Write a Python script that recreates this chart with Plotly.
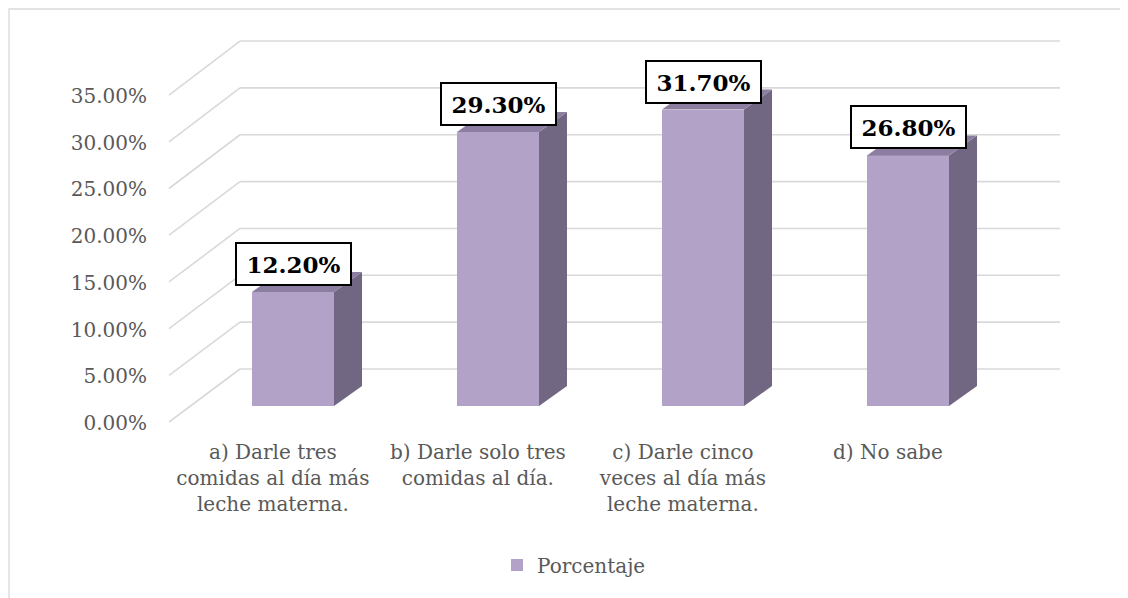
import plotly.graph_objects as go

# ---- data ----
categories = [
    "a) Darle tres<br>comidas al día más<br>leche materna.",
    "b) Darle solo tres<br>comidas al día.",
    "c) Darle cinco<br>veces al día más<br>leche materna.",
    "d) No sabe",
]
values = [12.2, 29.3, 31.7, 26.8]
value_labels = ["12.20%", "29.30%", "31.70%", "26.80%"]
tick_values = [0, 5, 10, 15, 20, 25, 30, 35]
tick_labels = ["0.00%", "5.00%", "10.00%", "15.00%", "20.00%", "25.00%", "30.00%", "35.00%"]
series_name = "Porcentaje"

# ---- styling / pseudo-3D geometry ----
FRONT = "#B2A2C7"
SIDE = "#716782"
TOP = "#8B7EA0"
GRID = "#D9D9D9"
TEXT = "#595959"
FONT = "DejaVu Serif"

BAR_W = 0.4
DX = 0.1366      # bar depth in x units
DY = 2.14        # bar depth in value units
WALL_X0, WALL_X1 = -0.2585, 3.7415
FRONT_X = -0.605


def front_plane(v):
    return -1.711 + 0.9989 * v


def back_wall(v):
    return 3.957 + 1.0021 * v


xs = list(range(len(values)))

fig = go.Figure()

# front faces of bars
fig.add_trace(go.Bar(
    x=xs, y=values, width=BAR_W, name=series_name,
    marker=dict(color=FRONT, line=dict(width=0)),
    showlegend=True, hoverinfo="skip",
))

# side and top faces
for xi, v in zip(xs, values):
    r = xi + BAR_W / 2
    l = xi - BAR_W / 2
    fig.add_trace(go.Scatter(
        x=[r, r + DX, r + DX, r, r], y=[0, DY, v + DY, v, 0],
        fill="toself", fillcolor=SIDE, mode="lines", line=dict(width=0),
        showlegend=False, hoverinfo="skip",
    ))
    fig.add_trace(go.Scatter(
        x=[l, r, r + DX, l + DX, l], y=[v, v, v + DY, v + DY, v],
        fill="toself", fillcolor=TOP, mode="lines", line=dict(width=0),
        showlegend=False, hoverinfo="skip",
    ))

# gridlines (side wall diagonal + back wall)
shapes = []
for t in tick_values:
    shapes.append(dict(type="line", xref="x", yref="y", layer="below",
                       x0=FRONT_X, y0=front_plane(t), x1=WALL_X0, y1=back_wall(t),
                       line=dict(color=GRID, width=1.6)))
    shapes.append(dict(type="line", xref="x", yref="y", layer="below",
                       x0=WALL_X0, y0=back_wall(t), x1=WALL_X1, y1=back_wall(t),
                       line=dict(color=GRID, width=1.6)))

# page offset (body margin) compensation
OFF = 8
L, T = 160, 20          # plot area in screen px
PL, PT = 1070, 432
PW, PH = PL - L, PT - T

shapes.append(dict(type="rect", xref="paper", yref="paper", layer="below",
                   x0=(9 - L) / PW, x1=(1150 - L) / PW,
                   y0=(PT - 620) / PH, y1=(PT - 9) / PH,
                   line=dict(color=GRID, width=1.3), fillcolor="rgba(0,0,0,0)"))

annotations = []
for xi, v, lab in zip(xs, values, value_labels):
    annotations.append(dict(
        x=xi, y=v, xref="x", yref="y", text="<b>" + lab + "</b>",
        showarrow=False, xanchor="center", yanchor="middle", yshift=28,
        font=dict(family=FONT, size=23, color="black"),
        bgcolor="white", bordercolor="black", borderwidth=2, borderpad=1,
        width=111, height=38,
    ))

fig.update_layout(
    width=1128, height=598,
    margin=dict(l=L - OFF, r=1128 - (PL - OFF), t=T - OFF, b=598 - (PT - OFF)),
    paper_bgcolor="white", plot_bgcolor="white",
    font=dict(family=FONT, size=20, color=TEXT),
    shapes=shapes, annotations=annotations,
    showlegend=True,
    legend=dict(orientation="h", x=(497 - L) / PW, xanchor="left",
                y=(PT - 565) / PH, yanchor="middle",
                font=dict(family=FONT, size=20, color=TEXT),
                bgcolor="rgba(0,0,0,0)"),
    bargap=0,
)
fig.update_xaxes(
    range=[(L - 293) / 205, (PL - 293) / 205],
    tickmode="array", tickvals=[x - 0.098 for x in xs], ticktext=categories,
    showgrid=False, zeroline=False, showline=False,
    ticks="outside", ticklen=2, tickcolor="rgba(0,0,0,0)",
    tickfont=dict(family=FONT, size=20, color=TEXT), fixedrange=True,
)
fig.update_yaxes(
    range=[(406 - PT) / 9.35, (406 - T) / 9.35],
    tickmode="array", tickvals=[front_plane(t) - 0.1 for t in tick_values], ticktext=tick_labels,
    showgrid=False, zeroline=False, showline=False,
    ticks="outside", ticklen=8, tickcolor="rgba(0,0,0,0)",
    tickfont=dict(family=FONT, size=20, color=TEXT), fixedrange=True,
)

fig.write_html("out.html")
